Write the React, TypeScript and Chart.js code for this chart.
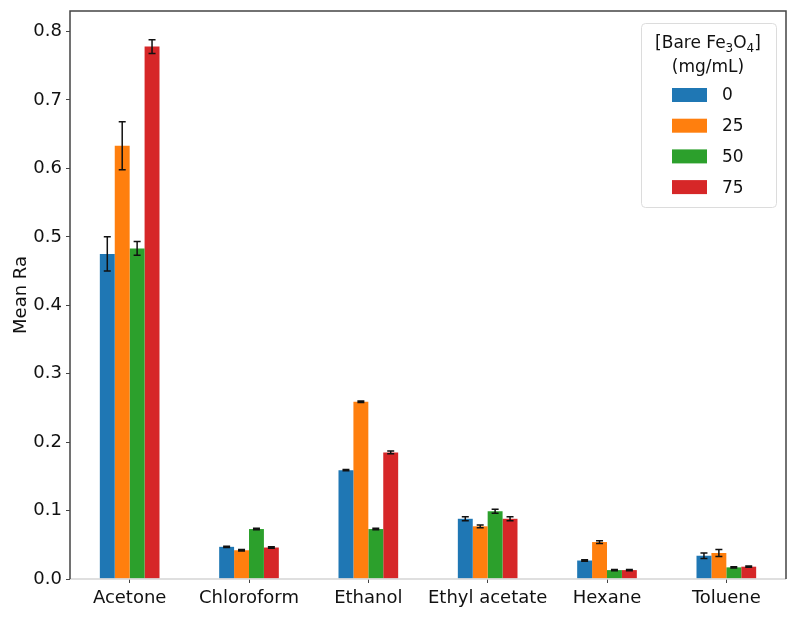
import React, { useEffect, useRef } from 'react';
import { Chart, registerables } from 'chart.js';

Chart.register(...registerables);

const categories = ['Acetone', 'Chloroform', 'Ethanol', 'Ethyl acetate', 'Hexane', 'Toluene'];
const seriesLabels = ['0', '25', '50', '75'];
const seriesColors = ['#1f77b4', '#ff7f0e', '#2ca02c', '#d62728'];
const values0 = [0.475, 0.047, 0.159, 0.088, 0.027, 0.034];
const values25 = [0.633, 0.042, 0.259, 0.077, 0.054, 0.038];
const values50 = [0.483, 0.073, 0.073, 0.099, 0.013, 0.017];
const values75 = [0.778, 0.046, 0.185, 0.088, 0.013, 0.018];
const err0 = [0.025, 0.001, 0.001, 0.003, 0.001, 0.004];
const err25 = [0.035, 0.001, 0.001, 0.002, 0.002, 0.005];
const err50 = [0.01, 0.001, 0.001, 0.003, 0.001, 0.001];
const err75 = [0.01, 0.001, 0.002, 0.003, 0.001, 0.001];
const yTicks = [0, 0.1, 0.2, 0.3, 0.4, 0.5, 0.6, 0.7, 0.8];
const yTitle = 'Mean Ra';
const legendTitleMain = 'Bare Fe';
const legendUnits = '(mg/mL)';

const allValues = [values0, values25, values50, values75];
const allErrors = [err0, err25, err50, err75];

const FONT = '"DejaVu Sans", sans-serif';

const errorBarPlugin = {
  id: 'errorBars',
  afterDatasetsDraw(chart: any) {
    const ctx = chart.ctx;
    const y = chart.scales.y;
    ctx.save();
    ctx.strokeStyle = '#111';
    ctx.lineWidth = 1.5;
    chart.data.datasets.forEach((ds: any, i: number) => {
      const meta = chart.getDatasetMeta(i);
      meta.data.forEach((bar: any, j: number) => {
        const v = allValues[i][j];
        const e = allErrors[i][j];
        const yt = y.getPixelForValue(v + e);
        const yb = y.getPixelForValue(v - e);
        const x = bar.x;
        ctx.beginPath();
        ctx.moveTo(x, yt);
        ctx.lineTo(x, yb);
        ctx.moveTo(x - 3.5, yt);
        ctx.lineTo(x + 3.5, yt);
        ctx.moveTo(x - 3.5, yb);
        ctx.lineTo(x + 3.5, yb);
        ctx.stroke();
      });
    });
    ctx.restore();
  },
};

const framePlugin = {
  id: 'frame',
  afterDraw(chart: any) {
    const { ctx, chartArea: a } = chart;
    ctx.save();
    ctx.lineWidth = 1.5;
    ctx.strokeStyle = '#d4d4d4';
    ctx.beginPath();
    ctx.moveTo(a.left, a.bottom);
    ctx.lineTo(a.right, a.bottom);
    ctx.stroke();
    ctx.strokeStyle = '#444';
    ctx.beginPath();
    ctx.moveTo(a.left, a.bottom);
    ctx.lineTo(a.left, a.top);
    ctx.lineTo(a.right, a.top);
    ctx.lineTo(a.right, a.bottom);
    ctx.stroke();

    // legend
    const bx = 641, by = 23, bw = 135, bh = 184;
    ctx.lineWidth = 1;
    ctx.strokeStyle = '#dcdcdc';
    ctx.fillStyle = 'rgba(255,255,255,0.85)';
    ctx.beginPath();
    (ctx as any).roundRect(bx + 0.5, by + 0.5, bw, bh, 4);
    ctx.fill();
    ctx.stroke();

    ctx.fillStyle = '#111';
    ctx.textBaseline = 'middle';
    const big = `17px ${FONT}`;
    const small = `12px ${FONT}`;
    const parts: [string, boolean][] = [['[', false], [legendTitleMain, false], ['3', true], ['O', false], ['4', true], [']', false]];
    let total = 0;
    parts.forEach(([t, s]) => { ctx.font = s ? small : big; total += ctx.measureText(t).width; });
    const cx = 708;
    let x = cx - total / 2;
    const ty = 44;
    ctx.textAlign = 'left';
    parts.forEach(([t, s]) => {
      ctx.font = s ? small : big;
      ctx.fillText(t, x, s ? ty + 5 : ty);
      x += ctx.measureText(t).width;
    });
    ctx.font = big;
    ctx.textAlign = 'center';
    ctx.fillText(legendUnits, cx, 68);

    ctx.textAlign = 'left';
    seriesLabels.forEach((lab, i) => {
      const yy = 95 + i * 30.7;
      ctx.fillStyle = seriesColors[i];
      ctx.fillRect(672, yy - 7, 35, 14);
      ctx.fillStyle = '#111';
      ctx.font = big;
      ctx.fillText(lab, 722, yy + 1);
    });
    ctx.restore();
  },
};

export default function App() {
  const ref = useRef<HTMLCanvasElement>(null);
  useEffect(() => {
    document.body.style.margin = '0';
    const chart = new Chart(ref.current!, {
      type: 'bar',
      data: {
        labels: categories,
        datasets: allValues.map((vals, i) => ({
          label: seriesLabels[i],
          data: vals,
          backgroundColor: seriesColors[i],
          borderWidth: 0,
          barPercentage: 1,
          categoryPercentage: 0.5,
        })),
      },
      options: {
        responsive: false,
        animation: false,
        layout: { padding: { left: 0, top: 11, right: 14, bottom: 0 } },
        plugins: { legend: { display: false }, tooltip: { enabled: false } },
        scales: {
          x: {
            grid: { display: true, offset: false, drawOnChartArea: false, drawTicks: true, tickLength: 4, color: '#444' },
            border: { display: false },
            ticks: { font: { family: FONT, size: 18 }, color: '#111', padding: 5, maxRotation: 0, minRotation: 0, autoSkip: false },
            afterFit(s: any) { s.height = 46; s.paddingLeft = 0; s.paddingRight = 0; },
          },
          y: {
            min: 0,
            max: 0.83,
            afterBuildTicks(s: any) { s.ticks = yTicks.map((v) => ({ value: v })); },
            grid: { display: true, drawOnChartArea: false, drawTicks: true, tickLength: 4, color: '#444' },
            border: { display: false },
            ticks: {
              font: { family: FONT, size: 18 },
              color: '#111',
              padding: 4,
              callback: (v: any) => Number(v).toFixed(1),
            },
            title: { display: true, text: yTitle, font: { family: FONT, size: 18 }, color: '#111', padding: { top: 11, bottom: 2 } },
            afterFit(s: any) { s.width = 70; s.paddingTop = 0; s.paddingBottom = 0; },
          },
        },
      },
      plugins: [errorBarPlugin, framePlugin],
    });
    return () => chart.destroy();
  }, []);
  return (
    <div style={{ width: 800, height: 625 }}>
      <canvas ref={ref} width={800} height={625} style={{ display: 'block' }} />
    </div>
  );
}
